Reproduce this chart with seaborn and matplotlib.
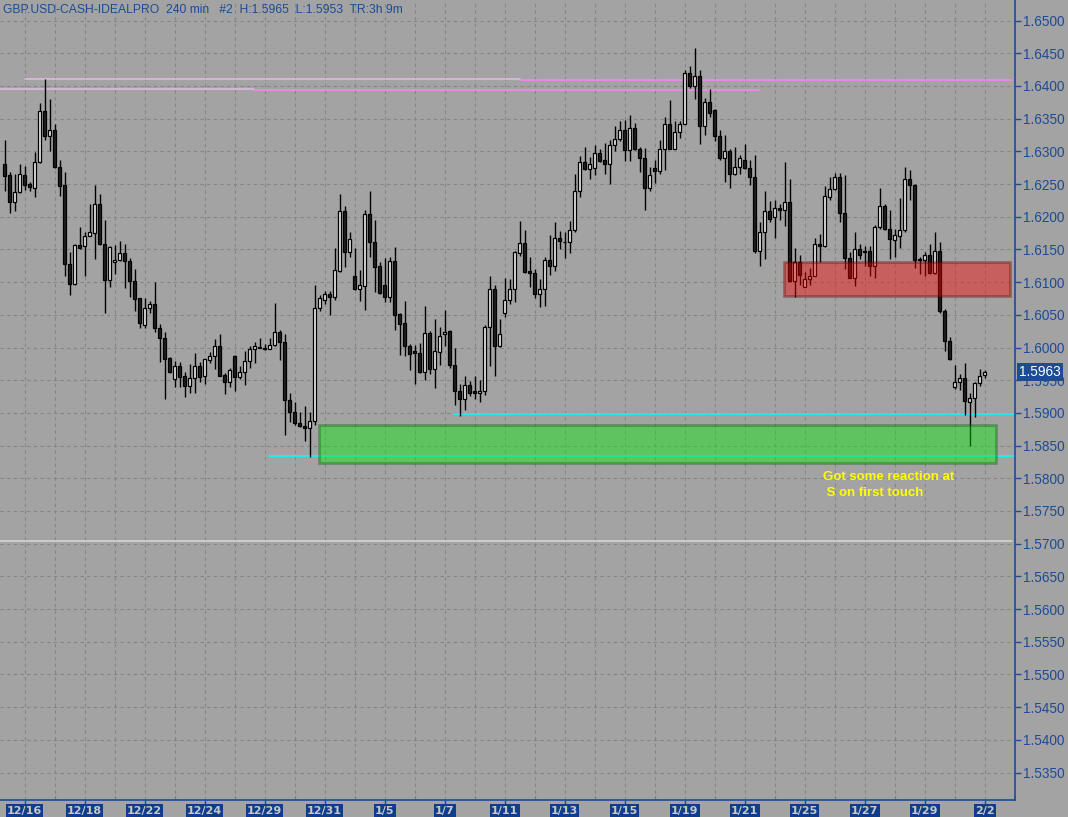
import numpy as np
import pandas as pd
import matplotlib
matplotlib.use("Agg")
import matplotlib.pyplot as plt
import matplotlib.transforms as mtrans
from matplotlib.patches import Rectangle
import seaborn as sns

# ---------------- data ----------------
opens = [
 1.6280, 1.6263, 1.6223, 1.6238, 1.6263, 1.6250, 1.6244, 1.6284, 1.6361, 1.6324,
 1.6333, 1.6276, 1.6248, 1.6127, 1.6097, 1.6157, 1.6155, 1.6171, 1.6175, 1.6220,
 1.6159, 1.6103, 1.6131, 1.6134, 1.6144, 1.6133, 1.6102, 1.6075, 1.6034, 1.6060,
 1.6067, 1.6030, 1.6015, 1.5984, 1.5952, 1.5971, 1.5956, 1.5941, 1.5954, 1.5971,
 1.5957, 1.5981, 1.5987, 1.6003, 1.5958, 1.5947, 1.5987, 1.5955, 1.5963, 1.5980,
 1.5997, 1.6001, 1.6000, 1.5998, 1.6004, 1.6024, 1.6009, 1.5919, 1.5902, 1.5885,
 1.5880, 1.5877, 1.5888, 1.6061, 1.6072, 1.6082, 1.6077, 1.6117, 1.6208, 1.6146,
 1.6110, 1.6089, 1.6094, 1.6204, 1.6162, 1.6124, 1.6095, 1.6077, 1.6132, 1.6051,
 1.6037, 1.6003, 1.5994, 1.5991, 1.5962, 1.6022, 1.5967, 1.5993, 1.6020, 1.6025,
 1.5974, 1.5934, 1.5921, 1.5942, 1.5933, 1.5930, 1.5933, 1.6031, 1.6090, 1.6002,
 1.6053, 1.6072, 1.6089, 1.6145, 1.6160, 1.6117, 1.6114, 1.6082, 1.6089, 1.6134,
 1.6125, 1.6168, 1.6162, 1.6161, 1.6179, 1.6240, 1.6283, 1.6273, 1.6275, 1.6297,
 1.6286, 1.6281, 1.6310, 1.6319, 1.6332, 1.6302, 1.6335, 1.6304, 1.6289, 1.6244,
 1.6275, 1.6270, 1.6304, 1.6341, 1.6304, 1.6329, 1.6342, 1.6419, 1.6400, 1.6415,
 1.6339, 1.6376, 1.6363, 1.6324, 1.6289, 1.6300, 1.6266, 1.6276, 1.6287, 1.6275,
 1.6261, 1.6148, 1.6176, 1.6209, 1.6200, 1.6214, 1.6211, 1.6222, 1.6101, 1.6131,
 1.6093, 1.6104, 1.6110, 1.6159, 1.6155, 1.6230, 1.6243, 1.6261, 1.6205, 1.6137,
 1.6107, 1.6151, 1.6148, 1.6147, 1.6125, 1.6185, 1.6217, 1.6181, 1.6165, 1.6171,
 1.6179, 1.6257, 1.6249, 1.6136, 1.6134, 1.6142, 1.6114, 1.6148, 1.6056, 1.6010,
 1.5940, 1.5948, 1.5954, 1.5917, 1.5923, 1.5946, 1.5958]

highs = [
 1.6318, 1.6268, 1.6266, 1.6280, 1.6277, 1.6253, 1.6299, 1.6374, 1.6410, 1.6380,
 1.6341, 1.6286, 1.6268, 1.6146, 1.6158, 1.6184, 1.6177, 1.6219, 1.6248, 1.6235,
 1.6195, 1.6155, 1.6156, 1.6163, 1.6159, 1.6137, 1.6120, 1.6076, 1.6076, 1.6071,
 1.6100, 1.6036, 1.6024, 1.5985, 1.5979, 1.5978, 1.5963, 1.5975, 1.5992, 1.5978,
 1.5983, 1.5993, 1.6013, 1.6021, 1.5961, 1.5969, 1.5988, 1.5971, 1.5994, 1.6003,
 1.6009, 1.6015, 1.6006, 1.6014, 1.6068, 1.6026, 1.6020, 1.5930, 1.5916, 1.5901,
 1.5911, 1.5902, 1.6095, 1.6080, 1.6087, 1.6086, 1.6152, 1.6234, 1.6217, 1.6176,
 1.6152, 1.6118, 1.6211, 1.6240, 1.6195, 1.6130, 1.6137, 1.6138, 1.6153, 1.6053,
 1.6071, 1.6006, 1.6004, 1.6007, 1.6063, 1.6025, 1.6043, 1.6032, 1.6058, 1.6026,
 1.6000, 1.5944, 1.5956, 1.5949, 1.5956, 1.5951, 1.6034, 1.6109, 1.6096, 1.6043,
 1.6107, 1.6104, 1.6147, 1.6193, 1.6179, 1.6138, 1.6120, 1.6104, 1.6138, 1.6172,
 1.6192, 1.6178, 1.6177, 1.6193, 1.6266, 1.6293, 1.6306, 1.6292, 1.6309, 1.6303,
 1.6312, 1.6317, 1.6338, 1.6346, 1.6348, 1.6355, 1.6344, 1.6307, 1.6305, 1.6276,
 1.6286, 1.6317, 1.6353, 1.6378, 1.6346, 1.6346, 1.6424, 1.6430, 1.6458, 1.6425,
 1.6381, 1.6395, 1.6364, 1.6332, 1.6325, 1.6303, 1.6307, 1.6295, 1.6311, 1.6286,
 1.6294, 1.6192, 1.6239, 1.6224, 1.6225, 1.6219, 1.6283, 1.6258, 1.6152, 1.6142,
 1.6115, 1.6121, 1.6168, 1.6174, 1.6247, 1.6261, 1.6267, 1.6267, 1.6263, 1.6146,
 1.6176, 1.6159, 1.6155, 1.6155, 1.6188, 1.6244, 1.6219, 1.6211, 1.6181, 1.6228,
 1.6276, 1.6272, 1.6250, 1.6139, 1.6146, 1.6159, 1.6177, 1.6161, 1.6059, 1.6016,
 1.5974, 1.5959, 1.5977, 1.5931, 1.5948, 1.5967, 1.5965]

lows = [
 1.6239, 1.6206, 1.6209, 1.6236, 1.6241, 1.6239, 1.6230, 1.6282, 1.6318, 1.6300,
 1.6275, 1.6231, 1.6109, 1.6080, 1.6096, 1.6151, 1.6110, 1.6170, 1.6135, 1.6157,
 1.6053, 1.6093, 1.6112, 1.6133, 1.6091, 1.6077, 1.6056, 1.6030, 1.6030, 1.6052,
 1.6024, 1.5978, 1.5921, 1.5961, 1.5939, 1.5939, 1.5924, 1.5930, 1.5930, 1.5947,
 1.5944, 1.5977, 1.5967, 1.5956, 1.5929, 1.5940, 1.5933, 1.5952, 1.5943, 1.5969,
 1.5977, 1.5999, 1.5996, 1.5997, 1.6003, 1.5981, 1.5866, 1.5886, 1.5882, 1.5878,
 1.5857, 1.5832, 1.5881, 1.6056, 1.6067, 1.6049, 1.6072, 1.6116, 1.6123, 1.6139,
 1.6088, 1.6071, 1.6057, 1.6138, 1.6085, 1.6082, 1.6069, 1.6070, 1.6026, 1.5988,
 1.5987, 1.5965, 1.5944, 1.5961, 1.5950, 1.5959, 1.5938, 1.5973, 1.6003, 1.5969,
 1.5912, 1.5896, 1.5904, 1.5926, 1.5922, 1.5916, 1.5927, 1.5972, 1.5956, 1.6001,
 1.6046, 1.6067, 1.6069, 1.6140, 1.6114, 1.6093, 1.6075, 1.6062, 1.6063, 1.6111,
 1.6117, 1.6151, 1.6137, 1.6144, 1.6177, 1.6230, 1.6272, 1.6258, 1.6264, 1.6284,
 1.6266, 1.6250, 1.6301, 1.6315, 1.6285, 1.6285, 1.6302, 1.6268, 1.6210, 1.6239,
 1.6251, 1.6266, 1.6272, 1.6303, 1.6303, 1.6320, 1.6342, 1.6397, 1.6380, 1.6311,
 1.6325, 1.6353, 1.6316, 1.6286, 1.6253, 1.6244, 1.6263, 1.6265, 1.6273, 1.6249,
 1.6145, 1.6125, 1.6135, 1.6192, 1.6168, 1.6195, 1.6186, 1.6100, 1.6077, 1.6095,
 1.6092, 1.6096, 1.6109, 1.6130, 1.6154, 1.6225, 1.6241, 1.6192, 1.6120, 1.6106,
 1.6094, 1.6136, 1.6125, 1.6109, 1.6107, 1.6181, 1.6180, 1.6135, 1.6138, 1.6152,
 1.6177, 1.6225, 1.6122, 1.6112, 1.6109, 1.6113, 1.6113, 1.6053, 1.5995, 1.5981,
 1.5937, 1.5935, 1.5897, 1.5849, 1.5893, 1.5941, 1.5953]

closes = [
 1.6262, 1.6223, 1.6238, 1.6266, 1.6249, 1.6246, 1.6284, 1.6361, 1.6324, 1.6333,
 1.6276, 1.6247, 1.6128, 1.6097, 1.6157, 1.6152, 1.6171, 1.6176, 1.6220, 1.6158,
 1.6103, 1.6153, 1.6134, 1.6144, 1.6132, 1.6102, 1.6074, 1.6037, 1.6061, 1.6067,
 1.6030, 1.6014, 1.5982, 1.5962, 1.5971, 1.5955, 1.5941, 1.5954, 1.5971, 1.5955,
 1.5982, 1.5987, 1.6003, 1.5957, 1.5947, 1.5965, 1.5955, 1.5963, 1.5980, 1.5997,
 1.6002, 1.6000, 1.5998, 1.6004, 1.6024, 1.6008, 1.5919, 1.5901, 1.5884, 1.5880,
 1.5877, 1.5888, 1.6061, 1.6075, 1.6082, 1.6077, 1.6118, 1.6208, 1.6146, 1.6166,
 1.6089, 1.6095, 1.6204, 1.6161, 1.6123, 1.6083, 1.6077, 1.6132, 1.6050, 1.6036,
 1.6002, 1.5990, 1.5991, 1.5962, 1.6022, 1.5967, 1.5994, 1.6017, 1.6024, 1.5973,
 1.5933, 1.5921, 1.5942, 1.5930, 1.5930, 1.5934, 1.6032, 1.6090, 1.6003, 1.6021,
 1.6073, 1.6090, 1.6146, 1.6160, 1.6115, 1.6114, 1.6082, 1.6090, 1.6134, 1.6125,
 1.6168, 1.6163, 1.6161, 1.6179, 1.6240, 1.6283, 1.6273, 1.6280, 1.6297, 1.6285,
 1.6281, 1.6310, 1.6319, 1.6333, 1.6302, 1.6335, 1.6303, 1.6289, 1.6244, 1.6263,
 1.6270, 1.6304, 1.6341, 1.6304, 1.6329, 1.6341, 1.6419, 1.6400, 1.6415, 1.6339,
 1.6376, 1.6359, 1.6324, 1.6289, 1.6300, 1.6266, 1.6276, 1.6290, 1.6275, 1.6261,
 1.6148, 1.6176, 1.6209, 1.6196, 1.6214, 1.6211, 1.6222, 1.6101, 1.6131, 1.6111,
 1.6104, 1.6110, 1.6159, 1.6155, 1.6231, 1.6243, 1.6261, 1.6205, 1.6137, 1.6107,
 1.6151, 1.6142, 1.6146, 1.6125, 1.6185, 1.6217, 1.6181, 1.6166, 1.6172, 1.6179,
 1.6257, 1.6249, 1.6134, 1.6134, 1.6142, 1.6114, 1.6148, 1.6056, 1.6010, 1.5982,
 1.5948, 1.5954, 1.5918, 1.5923, 1.5946, 1.5956, 1.5963]

date_labels = ["12/16", "12/18", "12/22", "12/24", "12/29", "12/31", "1/5", "1/7",
               "1/11", "1/13", "1/15", "1/19", "1/21", "1/25", "1/27", "1/29", "2/2"]
date_label_bars = [4 + 12 * i for i in range(len(date_labels))]

# horizontal level lines: price, first bar, last bar, colour
level_prices = [1.6410, 1.6409, 1.6395, 1.6393, 1.5704, 1.5898, 1.5834]
level_start = [4.0, 103.0, -1.0, 49.9, -1.0, 89.9, 52.9]
level_end = [103.0, 201.5, 49.9, 151.1, 201.5, 202.1, 202.1]
level_colors = ["#e2bce6", "#ff80ff", "#e2bce6", "#ff80ff", "#d8d8d8", "#00ffff", "#00ffff"]

# zones: bar from, bar to, price low, price high
support_zone = [62.9, 198.2, 1.5823, 1.5881]
resist_zone = [155.9, 201.0, 1.6079, 1.6130]

header = "GBP.USD-CASH-IDEALPRO  240 min   #2  H:1.5965  L:1.5953  TR:3h 9m"
last_price = 1.5963
note_lines = ["Got some reaction at", " S on first touch"]

# ---------------- style ----------------
BG = "#a3a3a3"
BLUE = "#1c4c94"
sns.set_style("ticks", {"axes.facecolor": BG, "figure.facecolor": BG})
plt.rcParams["font.family"] = ["Liberation Sans", "DejaVu Sans"]

df = pd.DataFrame({"bar": np.arange(len(opens)), "open": opens, "high": highs,
                   "low": lows, "close": closes})
df["up"] = df["close"] >= df["open"]
df["bottom"] = df[["open", "close"]].min(axis=1)
df["height"] = (df["close"] - df["open"]).abs().clip(lower=0.00004)

fig = plt.figure(figsize=(10.68, 8.17), dpi=100, facecolor=BG)
ax = fig.add_axes([0, 17 / 817, 1015 / 1068, 800 / 817])
ax.set_facecolor(BG)

x_left, x_right = -0.93, 202.07
y_low, y_high = 1.53081, 1.653135
ax.set_xlim(x_left, x_right)
ax.set_ylim(y_low, y_high)

# grid
yt = np.round(np.arange(1.5350, 1.65001, 0.005), 4)
ax.set_yticks(yt)
ax.set_yticklabels([f"{v:.4f}" for v in yt])
ax.set_xticks(date_label_bars)
ax.set_xticklabels(date_labels)
ax.set_xticks([b + 6 for b in date_label_bars], minor=True)
ax.grid(True, which="both", color="#858585", linestyle=(0, (3, 3)), linewidth=0.8)
ax.set_axisbelow(True)

# level lines (seaborn lineplot per segment)
for p, s, e, c in zip(level_prices, level_start, level_end, level_colors):
    sns.lineplot(x=[s, e], y=[p, p], ax=ax, color=c, linewidth=1.1, zorder=2)

# candles
ax.vlines(df["bar"], df["low"], df["high"], color="black", linewidth=1.0, zorder=3)
ax.bar(df["bar"], df["height"], bottom=df["bottom"], width=0.62,
       color=np.where(df["up"], "#e4e4e4", "#1e1e1e"), edgecolor="black",
       linewidth=0.9, zorder=4)

# zones
for (x0, x1, p0, p1), fc, ec in [
        (support_zone, (0.0, 0.95, 0.0, 0.41), (0.0, 0.35, 0.0, 0.35)),
        (resist_zone, (1.0, 0.0, 0.0, 0.41), (0.35, 0.0, 0.0, 0.35))]:
    ax.add_patch(Rectangle((x0, p0), x1 - x0, p1 - p0, facecolor=fc,
                           edgecolor=ec, linewidth=2.0, zorder=5))

# annotation
ax.text(163.7, 1.5802, note_lines[0], color="#ffff00", fontsize=9.5,
        fontweight="bold", va="center", ha="left", zorder=6)
ax.text(163.7, 1.5778, note_lines[1], color="#ffff00", fontsize=9.5,
        fontweight="bold", va="center", ha="left", zorder=6)

# axes styling
for s in ["left", "top"]:
    ax.spines[s].set_visible(False)
for s in ["right", "bottom"]:
    ax.spines[s].set_visible(True)
    ax.spines[s].set_color(BLUE)
    ax.spines[s].set_linewidth(1.2)
ax.yaxis.tick_right()
ax.tick_params(axis="y", which="major", direction="out", length=4, width=1,
               color=BLUE, labelcolor=BLUE, labelsize=9.8, pad=1.5)
ax.tick_params(axis="x", which="major", direction="out", length=3, width=1,
               color=BLUE, labelcolor="#c8c8c8", labelsize=8, pad=1)
ax.tick_params(axis="x", which="minor", direction="in", length=3, width=0.8,
               color="#7a7a7a")
for lbl in ax.get_xticklabels():
    lbl.set_fontfamily("DejaVu Sans")
    lbl.set_fontweight("bold")
    lbl.set_bbox(dict(facecolor="#0d3d8c", edgecolor="none", pad=0.9))

# last price marker on the axis
trans = mtrans.blended_transform_factory(ax.transAxes, ax.transData)
ax.text(1.004, last_price, f"{last_price:.4f}", transform=trans, color="white",
        fontsize=9.8, va="center", ha="left", clip_on=False, zorder=10,
        bbox=dict(facecolor="#1c4c94", edgecolor="none", pad=1.5))

fig.text(3 / 1068, 1 - 10 / 817, header, color=BLUE, fontsize=8.7,
         va="center", ha="left")

fig.savefig("out.png", dpi=100, facecolor=BG)
